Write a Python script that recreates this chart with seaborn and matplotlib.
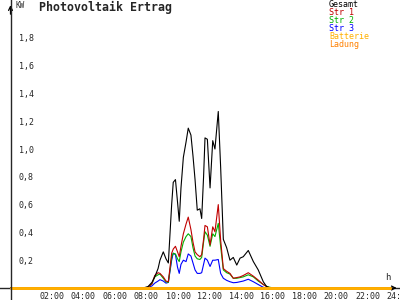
import numpy as np
import pandas as pd
import matplotlib
matplotlib.use("Agg")
import matplotlib.pyplot as plt
import seaborn as sns
from matplotlib.ticker import FuncFormatter, FixedLocator

# ---- data (hours of day, kW) ----
hours = [0.0, 8.39, 8.70, 8.95, 9.13, 9.34, 9.46, 9.67, 9.84, 9.99, 10.20, 10.30, 10.44,
         10.57, 10.68, 10.79, 10.94, 11.11, 11.25, 11.42, 11.55, 11.68, 11.82, 11.99,
         12.10, 12.22, 12.31, 12.46, 12.63, 12.80, 12.94, 13.15, 13.30, 13.47, 13.68,
         13.89, 14.10, 14.32, 14.53, 14.73, 15.05, 15.37, 15.68, 16.00, 16.21, 16.42,
         16.68, 24.0]
gesamt = [0, 0, 0.01, 0.04, 0.08, 0.14, 0.20, 0.26, 0.21, 0.18, 0.60, 0.76, 0.78,
          0.62, 0.48, 0.72, 0.94, 1.05, 1.15, 1.10, 0.95, 0.78, 0.56, 0.57,
          0.50, 0.80, 1.08, 1.07, 0.72, 1.06, 1.00, 1.27, 0.87, 0.35, 0.29,
          0.20, 0.22, 0.165, 0.215, 0.225, 0.27, 0.19, 0.13, 0.045, 0.01, 0,
          0, 0]
str1 = [0, 0, 0.005, 0.03, 0.09, 0.11, 0.105, 0.08, 0.05, 0.045, 0.25, 0.28, 0.30,
        0.26, 0.225, 0.30, 0.39, 0.46, 0.51, 0.42, 0.33, 0.26, 0.24, 0.225,
        0.24, 0.35, 0.45, 0.44, 0.31, 0.44, 0.405, 0.60, 0.345, 0.14, 0.12,
        0.105, 0.07, 0.075, 0.08, 0.09, 0.11, 0.085, 0.057, 0.025, 0.01, 0,
        0, 0]
str2 = [0, 0, 0.005, 0.03, 0.08, 0.095, 0.10, 0.07, 0.045, 0.04, 0.22, 0.25, 0.245,
        0.21, 0.19, 0.26, 0.33, 0.37, 0.39, 0.37, 0.29, 0.23, 0.21, 0.205,
        0.22, 0.33, 0.405, 0.38, 0.30, 0.39, 0.37, 0.465, 0.30, 0.13, 0.11,
        0.10, 0.07, 0.07, 0.075, 0.08, 0.095, 0.08, 0.05, 0.025, 0.012, 0.005,
        0, 0]
str3 = [0, 0, 0.003, 0.015, 0.035, 0.05, 0.06, 0.05, 0.035, 0.04, 0.20, 0.25, 0.24,
        0.15, 0.105, 0.17, 0.20, 0.19, 0.245, 0.23, 0.18, 0.13, 0.105, 0.105,
        0.11, 0.17, 0.215, 0.20, 0.155, 0.20, 0.20, 0.205, 0.105, 0.07, 0.055,
        0.045, 0.038, 0.04, 0.045, 0.05, 0.063, 0.045, 0.025, 0.005, 0, 0,
        0, 0]
batterie = [0.0] * len(hours)
ladung = [0.0] * len(hours)

series_names = ["Gesamt", "Str 1", "Str 2", "Str 3", "Batterie", "Ladung"]
series_colors = ["#000000", "#c00000", "#00b000", "#0000ff", "#ffb000", "#ff8000"]
y_ticks = [0.2, 0.4, 0.6, 0.8, 1.0, 1.2, 1.4, 1.6, 1.8]
x_ticks = [2, 4, 6, 8, 10, 12, 14, 16, 18, 20, 22, 24]
x_labels = ["02:00", "04:00", "06:00", "08:00", "10:00", "12:00", "14:00",
            "16:00", "18:00", "20:00", "22:00", "24:00"]

frames = []
for name, vals in zip(series_names, [gesamt, str1, str2, str3, batterie, ladung]):
    frames.append(pd.DataFrame({"h": hours, "kW": vals, "serie": name}))
df = pd.concat(frames, ignore_index=True)

sns.set_style("white")
plt.rcParams["font.family"] = ["DejaVu Sans Mono", "DejaVu Sans"]

fig = plt.figure(figsize=(4, 3), dpi=100)
ax = fig.add_axes([0, 0, 1, 1])
ax.set_facecolor("white")

# pixel geometry: 0h at x=10.5px, 15.8 px/h ; 0 kW at y=288px, 139 px/kW
px_h = 15.8
px_kw = 139.0
ax.set_xlim(-10.5 / px_h, (400 - 10.5) / px_h)
ax.set_ylim(-12 / px_kw, 288 / px_kw)

lw = {"Gesamt": 0.8, "Str 1": 0.8, "Str 2": 0.8, "Str 3": 0.8, "Batterie": 2.0, "Ladung": 2.0}
for name, col in zip(series_names[::-1], series_colors[::-1]):
    sub = df[df["serie"] == name]
    sns.lineplot(data=sub, x="h", y="kW", color=col, linewidth=lw[name],
                 ax=ax, legend=False, estimator=None, sort=False,
                 zorder=3 if name not in ("Batterie", "Ladung") else 4)

# axes lines through origin
for s in ["top", "right"]:
    ax.spines[s].set_visible(False)
ax.spines["left"].set_position(("data", 0))
ax.spines["bottom"].set_position(("data", 0))
ax.spines["left"].set_linewidth(1.0)
ax.spines["bottom"].set_linewidth(1.0)
ax.spines["left"].set_zorder(5)

# arrows
ax.annotate("", xy=(ax.get_xlim()[1] - 0.03, 0), xytext=(23.9, 0),
            arrowprops=dict(arrowstyle="->", lw=0.9, color="black", mutation_scale=7))
ax.annotate("", xy=(0, 2.055), xytext=(0, 1.95),
            arrowprops=dict(arrowstyle="->", lw=0.9, color="black", mutation_scale=7))

# ticks
ax.yaxis.set_major_locator(FixedLocator(y_ticks))
ax.yaxis.set_major_formatter(FuncFormatter(lambda v, p: f"{v:.1f}".replace(".", ",")))
ax.xaxis.set_major_locator(FixedLocator(x_ticks))
ax.set_xticklabels(x_labels)
ax.tick_params(axis="both", direction="inout", length=5, width=0.9, color="black",
               labelsize=6)
ax.tick_params(axis="y", pad=-8.5)
ax.tick_params(axis="x", pad=0.5)
for lbl in ax.get_yticklabels():
    lbl.set_ha("left")
for lbl in ax.get_xticklabels():
    lbl.set_ha("left")
    lbl.set_transform(lbl.get_transform() +
                      matplotlib.transforms.ScaledTranslation(-3 / 100, 0, fig.dpi_scale_trans))
ax.set_xlabel("")
ax.set_ylabel("")

# texts
fig.text(39 / 400, 1 - 7.5 / 300, "Photovoltaik Ertrag", fontsize=8.4, fontweight="bold",
         ha="left", va="center")
fig.text(15 / 400, 1 - 6 / 300, "KW", fontsize=5.5, ha="left", va="center")
fig.text(385 / 400, 1 - 278 / 300, "h", fontsize=6.5, ha="left", va="center")
for i, (name, col) in enumerate(zip(series_names, series_colors)):
    fig.text(329 / 400, 1 - (4.6 + 7.9 * i) / 300, name, color=col, fontsize=6,
             ha="left", va="center")

fig.savefig("out.png", dpi=100)
